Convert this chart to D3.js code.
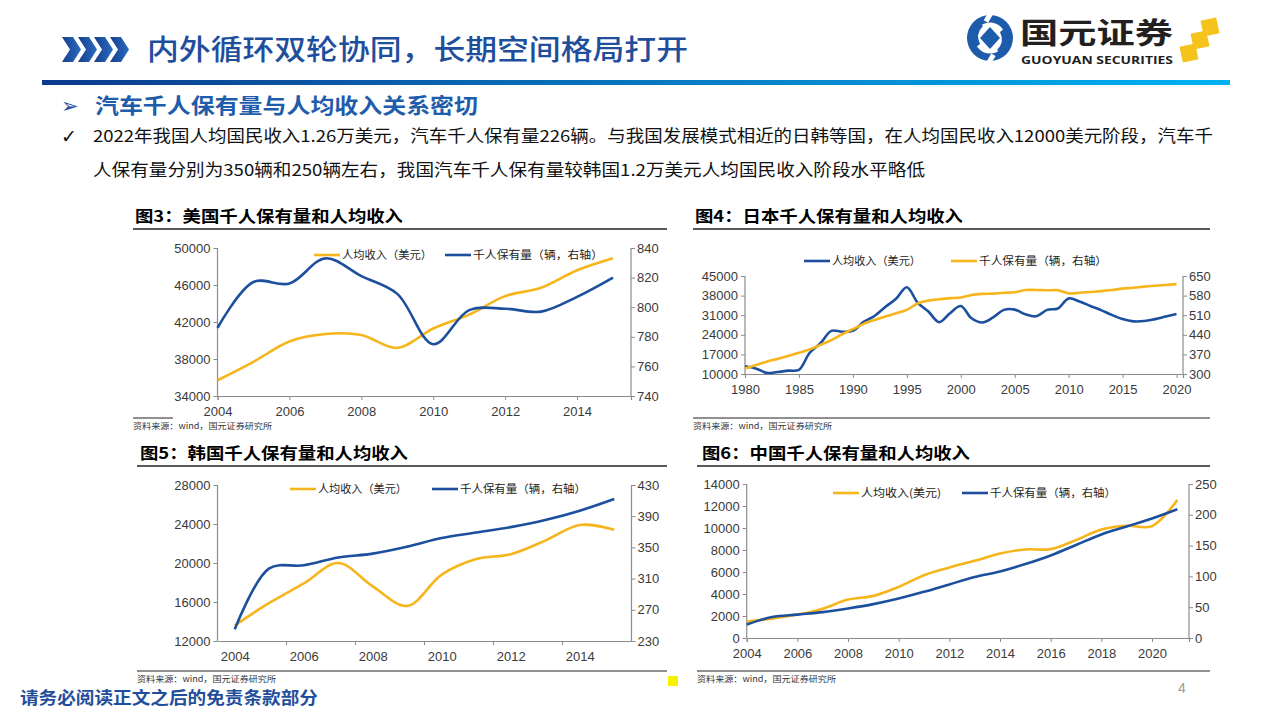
<!DOCTYPE html>
<html>
<head>
<meta charset="utf-8">
<script src="https://cdn.jsdelivr.net/npm/d3@7"></script>
<style>
  body { margin: 0; background: #fff; }
  svg { display: block; }
</style>
</head>
<body>
<svg id="slide" width="1280" height="720"></svg>
<script>
// ---- data ----
const usYears = [2004, 2005, 2006, 2007, 2008, 2009, 2010, 2011, 2012, 2013, 2014, 2015];
const usIncome = [35700, 37700, 39900, 40700, 40600, 39200, 41300, 42800, 44800, 45700, 47600, 48900];
const usVehicles = [786, 817, 816, 833, 821, 809, 775, 798, 799, 797, 807, 820];

const jpYears = [1980, 1981, 1982, 1983, 1984, 1985, 1986, 1987, 1988, 1989,
  1990, 1991, 1992, 1993, 1994, 1995, 1996, 1997, 1998, 1999,
  2000, 2001, 2002, 2003, 2004, 2005, 2006, 2007, 2008, 2009,
  2010, 2011, 2012, 2013, 2014, 2015, 2016, 2017, 2018, 2019, 2020];
const jpIncome = [12800, 12000, 10400, 10700, 11200, 11500, 17600, 21000, 25400, 25100,
  25400, 28600, 30700, 33900, 36900, 41000, 35500, 32300, 28500, 31700,
  34300, 29900, 28400, 30200, 32900, 33000, 31300, 30600, 32900, 33400,
  37000, 35900, 34300, 32800, 31100, 29600, 28800, 28900, 29600, 30500, 31400];
const jpVehicles = [320, 332, 344, 354, 364, 376, 388, 404, 421, 442,
  460, 479, 493, 505, 517, 529, 552, 562, 567, 571,
  573, 582, 586, 587, 590, 592, 600, 600, 599, 599,
  588, 590, 593, 596, 600, 605, 608, 612, 615, 618, 621];

const krYears = [2004, 2005, 2006, 2007, 2008, 2009, 2010, 2011, 2012, 2013, 2014, 2015];
const krIncome = [13600, 15900, 17900, 20000, 17600, 15600, 18800, 20400, 20900, 22300, 23900, 23400];
const krVehicles = [245, 323, 327, 337, 342, 351, 362, 369, 376, 385, 397, 412];

const cnYears = [2004, 2005, 2006, 2007, 2008, 2009, 2010, 2011, 2012, 2013, 2014, 2015, 2016, 2017, 2018, 2019, 2020, 2021];
const cnIncome = [1500, 1760, 2130, 2670, 3490, 3830, 4650, 5710, 6410, 7020, 7680, 8050, 8080, 8900, 9870, 10200, 10170, 12540];
const cnVehicles = [22, 34, 38, 42, 48, 55, 64, 75, 87, 99, 108, 120, 134, 151, 168, 181, 194, 209];

// tick labels
const usLeftTicks = [34000, 38000, 42000, 46000, 50000];
const usRightTicks = [740, 760, 780, 800, 820, 840];
const usXTicks = [2004, 2006, 2008, 2010, 2012, 2014];
const jpLeftTicks = [10000, 17000, 24000, 31000, 38000, 45000];
const jpRightTicks = [300, 370, 440, 510, 580, 650];
const jpXTicks = [1980, 1985, 1990, 1995, 2000, 2005, 2010, 2015, 2020];
const krLeftTicks = [12000, 16000, 20000, 24000, 28000];
const krRightTicks = [230, 270, 310, 350, 390, 430];
const krXTicks = [2004, 2006, 2008, 2010, 2012, 2014];
const cnLeftTicks = [0, 2000, 4000, 6000, 8000, 10000, 12000, 14000];
const cnRightTicks = [0, 50, 100, 150, 200, 250];
const cnXTicks = [2004, 2006, 2008, 2010, 2012, 2014, 2016, 2018, 2020];

const YELLOW = '#f6b51a';
const BLUE = '#1c4f9e';
const NAVY = '#1f4f9c';
const CJK = '"Noto Sans CJK SC", "Noto Sans", sans-serif';
const NUM = '"Liberation Sans", Arial, sans-serif';

const svg = d3.select('#slide');

// ---- header ----
const defs = svg.append('defs');
const grad = defs.append('linearGradient').attr('id', 'bar');
grad.append('stop').attr('offset', '0%').attr('stop-color', '#0c3a8c');
grad.append('stop').attr('offset', '100%').attr('stop-color', '#00b2f2');
const chev = defs.append('linearGradient').attr('id', 'chev');
chev.append('stop').attr('offset', '0%').attr('stop-color', '#163f8a');
chev.append('stop').attr('offset', '100%').attr('stop-color', '#2b6cc2');

// four heavy chevrons
[62, 78, 94, 110].forEach(x0 => {
  svg.append('path')
    .attr('d', `M${x0},37 L${x0 + 11},37 L${x0 + 19},49.5 L${x0 + 11},62 L${x0},62 L${x0 + 8},49.5 Z`)
    .attr('fill', 'url(#chev)');
});

svg.append('text')
  .attr('x', 147).attr('y', 60)
  .attr('font-family', CJK).attr('font-size', 28).attr('font-weight', 500)
  .attr('fill', NAVY)
  .attr('textLength', 541).attr('lengthAdjust', 'spacingAndGlyphs')
  .text('内外循环双轮协同，长期空间格局打开');

svg.append('rect').attr('x', 42).attr('y', 80).attr('width', 1188).attr('height', 5).attr('fill', 'url(#bar)');

// logo
const logo = svg.append('g');
logo.append('circle').attr('cx', 990).attr('cy', 38).attr('r', 23).attr('fill', '#1d5bab');
logo.append('circle').attr('cx', 990).attr('cy', 38).attr('r', 15.5).attr('fill', '#fff');
logo.append('path').attr('d', 'M990,27 L1000,38 L990,49 L980,38 Z').attr('fill', '#1d5bab');
logo.append('path').attr('d', 'M978,22 Q968,34 975,48 L980,44 Q975,34 983,26 Z').attr('fill', '#1d5bab');
logo.append('path').attr('d', 'M1002,54 Q1012,42 1005,28 L1000,32 Q1005,42 997,50 Z').attr('fill', '#1d5bab');
logo.append('rect').attr('x', 986).attr('y', 13).attr('width', 5).attr('height', 9).attr('fill', '#fff')
  .attr('transform', 'rotate(30,988,17)');
logo.append('rect').attr('x', 989).attr('y', 54).attr('width', 5).attr('height', 9).attr('fill', '#fff')
  .attr('transform', 'rotate(30,991,58)');
logo.append('text')
  .attr('x', 1020).attr('y', 44)
  .attr('font-family', CJK).attr('font-size', 29).attr('font-weight', 700)
  .attr('fill', '#231f20')
  .attr('textLength', 153).attr('lengthAdjust', 'spacingAndGlyphs')
  .text('国元证券');
logo.append('text')
  .attr('x', 1021).attr('y', 64)
  .attr('font-family', '"Open Sans", "Liberation Sans", sans-serif').attr('font-size', 10.5).attr('font-weight', 700)
  .attr('fill', '#231f20')
  .attr('textLength', 152).attr('lengthAdjust', 'spacingAndGlyphs')
  .text('GUOYUAN SECURITIES');
[[1210, 27], [1200, 40], [1189, 53]].forEach(([cx, cy]) => {
  logo.append('rect')
    .attr('x', cx - 8).attr('y', cy - 8).attr('width', 16).attr('height', 16)
    .attr('fill', '#f6c31c')
    .attr('transform', `rotate(-12,${cx},${cy})`);
});

// subtitle + bullet text
svg.append('text')
  .attr('x', 61).attr('y', 113)
  .attr('font-family', '"DejaVu Sans", sans-serif').attr('font-size', 21)
  .attr('fill', NAVY).text('➢');
svg.append('text')
  .attr('x', 95).attr('y', 113)
  .attr('font-family', CJK).attr('font-size', 21).attr('font-weight', 700)
  .attr('fill', '#1f5cab')
  .attr('textLength', 383).attr('lengthAdjust', 'spacingAndGlyphs')
  .text('汽车千人保有量与人均收入关系密切');
svg.append('text')
  .attr('x', 61).attr('y', 143)
  .attr('font-family', '"DejaVu Sans", sans-serif').attr('font-size', 19).attr('font-weight', 700)
  .attr('fill', '#111').text('✓');
svg.append('text')
  .attr('x', 93).attr('y', 142)
  .attr('font-family', CJK).attr('font-size', 16.5)
  .attr('fill', '#111')
  .attr('textLength', 1120).attr('lengthAdjust', 'spacingAndGlyphs')
  .text('2022年我国人均国民收入1.26万美元，汽车千人保有量226辆。与我国发展模式相近的日韩等国，在人均国民收入12000美元阶段，汽车千');
svg.append('text')
  .attr('x', 93).attr('y', 176)
  .attr('font-family', CJK).attr('font-size', 16.5)
  .attr('fill', '#111')
  .attr('textLength', 832).attr('lengthAdjust', 'spacingAndGlyphs')
  .text('人保有量分别为350辆和250辆左右，我国汽车千人保有量较韩国1.2万美元人均国民收入阶段水平略低');

// ---- one dual-axis panel ----
function drawPanel(p) {
  const g = svg.append('g');

  // title and rule under it
  g.append('text')
    .attr('x', p.titleX).attr('y', p.titleY)
    .attr('font-family', CJK).attr('font-size', 16).attr('font-weight', 700)
    .attr('fill', '#000')
    .attr('textLength', 268).attr('lengthAdjust', 'spacingAndGlyphs')
    .text(p.title);
  g.append('line')
    .attr('x1', p.ruleX0).attr('x2', p.ruleX1)
    .attr('y1', p.titleY + 7).attr('y2', p.titleY + 7)
    .attr('stroke', '#222').attr('stroke-width', 1.3);

  let x;
  if (p.band) {
    x = d3.scalePoint().domain(p.years).range([p.left, p.right]).padding(0.5);
  } else {
    x = d3.scaleLinear().domain(p.xDomain).range([p.left, p.right]);
  }
  const yL = d3.scaleLinear().domain(p.yLDomain).range([p.bottom, p.top]);
  const yR = d3.scaleLinear().domain(p.yRDomain).range([p.bottom, p.top]);

  const gL = g.append('g').attr('transform', `translate(${p.left},0)`)
    .call(d3.axisLeft(yL).tickValues(p.yLTicks).tickSize(4).tickPadding(3).tickFormat(d3.format('d')));
  const gR = g.append('g').attr('transform', `translate(${p.right},0)`)
    .call(d3.axisRight(yR).tickValues(p.yRTicks).tickSize(4).tickPadding(2).tickFormat(d3.format('d')));
  let gX;
  if (p.band) {
    // category axis: labels centred in a year, tick marks between categories
    gX = g.append('g').attr('transform', `translate(0,${p.bottom})`)
      .call(d3.axisBottom(x).tickValues(p.xTicks).tickSize(0).tickPadding(11).tickFormat(d3.format('d')));
    const step = x.step();
    p.xTicks.slice(1).forEach(yr => {
      gX.append('line')
        .attr('x1', x(yr) - step / 2).attr('x2', x(yr) - step / 2)
        .attr('y1', 0).attr('y2', 4)
        .attr('stroke', '#8c8c8c');
    });
  } else {
    gX = g.append('g').attr('transform', `translate(0,${p.bottom})`)
      .call(d3.axisBottom(x).tickValues(p.xTicks).tickSize(4).tickPadding(7).tickFormat(d3.format('d')));
  }
  [gL, gR, gX].forEach(a => {
    a.select('.domain').attr('stroke', '#8c8c8c').attr('stroke-width', 1.2);
    a.selectAll('.tick line').attr('stroke', '#8c8c8c');
    a.selectAll('.tick text')
      .attr('font-family', NUM).attr('font-size', 13).attr('fill', '#3a3a3a');
  });
  gR.select('.domain').attr('d', `M0,${p.bottom}V${p.top}`);
  gL.select('.domain').attr('d', `M0,${p.bottom}V${p.top}`);

  // series
  p.series.forEach(s => {
    const scale = s.axis === 'left' ? yL : yR;
    const line = d3.line()
      .x((d, i) => x(p.years[i]))
      .y(d => scale(d))
      .curve(d3.curveCatmullRom.alpha(0.5));
    g.append('path')
      .datum(s.values)
      .attr('d', line)
      .attr('fill', 'none')
      .attr('stroke', s.color)
      .attr('stroke-width', 2.6)
      .attr('stroke-linejoin', 'round');
  });

  // legend
  p.series.forEach(s => {
    g.append('line')
      .attr('x1', s.legX).attr('x2', s.legX + 26)
      .attr('y1', p.legY).attr('y2', p.legY)
      .attr('stroke', s.color).attr('stroke-width', 2.6);
    g.append('text')
      .attr('x', s.legX + 28).attr('y', p.legY + 4)
      .attr('font-family', CJK).attr('font-size', 11)
      .attr('fill', '#222')
      .attr('textLength', s.legW).attr('lengthAdjust', 'spacingAndGlyphs')
      .text(s.name);
  });

  // source
  g.append('line')
    .attr('x1', p.ruleX0).attr('x2', p.srcRuleX1)
    .attr('y1', p.srcY).attr('y2', p.srcY)
    .attr('stroke', '#222').attr('stroke-width', 1.2);
  g.append('text')
    .attr('x', p.ruleX0).attr('y', p.srcY + 11)
    .attr('font-family', CJK).attr('font-size', 8.5)
    .attr('fill', '#333')
    .attr('textLength', 139).attr('lengthAdjust', 'spacingAndGlyphs')
    .text('资料来源：wind，国元证券研究所');
}

drawPanel({
  title: '图3：美国千人保有量和人均收入', titleX: 135, titleY: 222, ruleX0: 133, ruleX1: 667,
  srcY: 418, srcRuleX1: 173,
  years: usYears, xDomain: [2004, 2015.5], xTicks: usXTicks,
  left: 217.5, right: 631, top: 248, bottom: 396,
  yLDomain: [34000, 50000], yLTicks: usLeftTicks,
  yRDomain: [740, 840], yRTicks: usRightTicks,
  legY: 255,
  series: [
    { name: '人均收入（美元）', values: usIncome, axis: 'left', color: YELLOW, legX: 314, legW: 90 },
    { name: '千人保有量（辆，右轴）', values: usVehicles, axis: 'right', color: BLUE, legX: 445, legW: 130 }
  ]
});

drawPanel({
  title: '图4：日本千人保有量和人均收入', titleX: 695, titleY: 222, ruleX0: 693, ruleX1: 1210,
  srcY: 418, srcRuleX1: 1210,
  years: jpYears, xDomain: [1980, 2020.6], xTicks: jpXTicks,
  left: 745, right: 1183, top: 276, bottom: 374,
  yLDomain: [10000, 45000], yLTicks: jpLeftTicks,
  yRDomain: [300, 650], yRTicks: jpRightTicks,
  legY: 261,
  series: [
    { name: '人均收入（美元）', values: jpIncome, axis: 'left', color: BLUE, legX: 804, legW: 89 },
    { name: '千人保有量（辆，右轴）', values: jpVehicles, axis: 'right', color: YELLOW, legX: 951, legW: 128 }
  ]
});

drawPanel({
  title: '图5：韩国千人保有量和人均收入', titleX: 140, titleY: 459, ruleX0: 137, ruleX1: 667,
  srcY: 671, srcRuleX1: 667,
  years: krYears, band: true, xTicks: krXTicks,
  left: 217.5, right: 631.5, top: 485, bottom: 641,
  yLDomain: [12000, 28000], yLTicks: krLeftTicks,
  yRDomain: [230, 430], yRTicks: krRightTicks,
  legY: 489,
  series: [
    { name: '人均收入（美元）', values: krIncome, axis: 'left', color: YELLOW, legX: 290, legW: 89 },
    { name: '千人保有量（辆，右轴）', values: krVehicles, axis: 'right', color: BLUE, legX: 432, legW: 126 }
  ]
});

drawPanel({
  title: '图6：中国千人保有量和人均收入', titleX: 702, titleY: 459, ruleX0: 697, ruleX1: 1210,
  srcY: 671, srcRuleX1: 1210,
  years: cnYears, xDomain: [2004, 2021.46], xTicks: cnXTicks,
  left: 746.7, right: 1189, top: 484, bottom: 638,
  yLDomain: [0, 14000], yLTicks: cnLeftTicks,
  yRDomain: [0, 250], yRTicks: cnRightTicks,
  legY: 493,
  series: [
    { name: '人均收入(美元)', values: cnIncome, axis: 'left', color: YELLOW, legX: 833, legW: 80 },
    { name: '千人保有量（辆，右轴）', values: cnVehicles, axis: 'right', color: BLUE, legX: 962, legW: 126 }
  ]
});

// ---- footer ----
svg.append('rect').attr('x', 668).attr('y', 676).attr('width', 10).attr('height', 10).attr('fill', '#f7f300');
svg.append('text')
  .attr('x', 1178).attr('y', 693)
  .attr('font-family', NUM).attr('font-size', 14).attr('fill', '#9a9a9a')
  .text('4');
svg.append('text')
  .attr('x', 20).attr('y', 704)
  .attr('font-family', CJK).attr('font-size', 17).attr('font-weight', 700)
  .attr('fill', '#1f4f9c')
  .attr('textLength', 298).attr('lengthAdjust', 'spacingAndGlyphs')
  .text('请务必阅读正文之后的免责条款部分');
</script>
</body>
</html>
